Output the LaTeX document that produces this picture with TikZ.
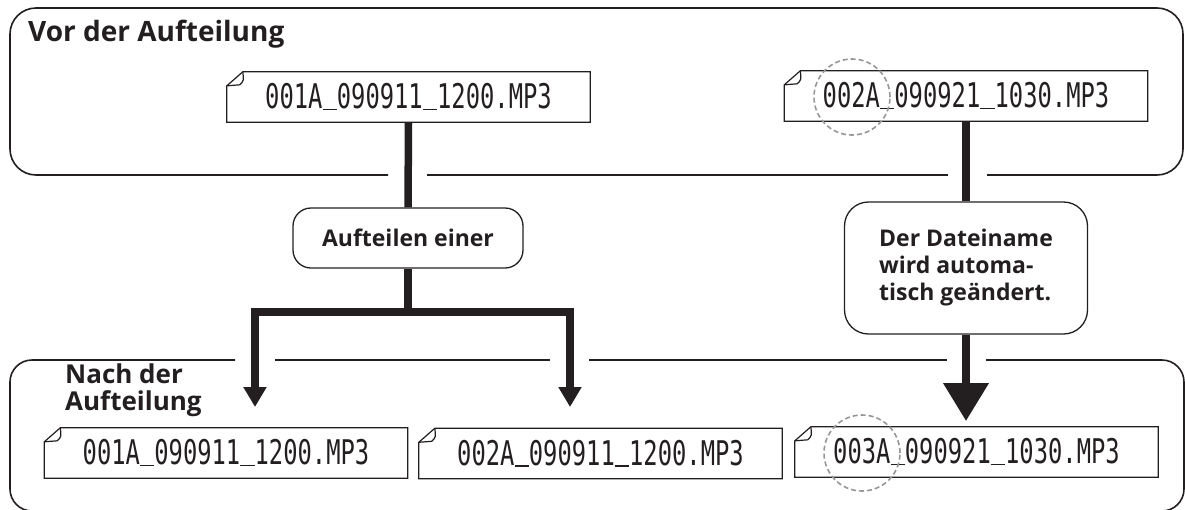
\documentclass[tikz,border=0pt]{standalone}
\usepackage{fontspec}
\newfontfamily\labelfont{Open Sans}
\newfontfamily\fnamefont[FakeStretch=0.70]{DejaVu Sans Mono}
\usetikzlibrary{arrows.meta}
\definecolor{splitblack}{RGB}{35, 31, 32}
\definecolor{splitgray}{RGB}{150, 150, 150}

% Unterstrich: eine Zeichenbreite der schmalen Schrift
\newcommand{\us}{\rule[-1.5pt]{0.421em}{1.5pt}}

% Dateisymbol: Rahmen mit Eselsohr um einen Dateinamen-Knoten
\newcommand{\dogear}[1]{%
  \draw[fileline] ([yshift=-14pt]#1.north west) -- ([xshift=16pt]#1.north west)
    -- (#1.north east) -- (#1.south east) -- (#1.south west) -- cycle;
  \draw[fileline] ([xshift=16pt]#1.north west)
    .. controls ([xshift=17pt,yshift=-9pt]#1.north west) .. ([xshift=13pt,yshift=-13pt]#1.north west)
    -- ([yshift=-14pt]#1.north west);}

\begin{document}
\begin{tikzpicture}[x=1pt, y=-1pt, >=Stealth,
    frame/.style={line width=1.6pt, draw=splitblack},
    fileline/.style={line width=1.2pt, draw=splitblack},
    filename/.style={minimum width=363pt, minimum height=50pt, inner sep=0pt,
      font=\fnamefont\fontsize{34}{34}\selectfont, text=splitblack},
    note/.style={draw=splitblack, line width=1.3pt, rounded corners=18pt, inner sep=0pt,
      font=\labelfont\bfseries\fontsize{23}{27}\selectfont, text=splitblack},
    heading/.style={inner sep=0pt, text=splitblack,
      font=\labelfont\bfseries\fontsize{28}{32}\selectfont},
    flow/.style={line width=7.5pt, draw=splitblack, line join=miter},
    changering/.style={circle, draw=splitgray, line width=1.6pt,
      dash pattern=on 5pt off 3pt, minimum size=76pt, inner sep=0pt}]

\clip (0,0) rectangle (1185,509);

% ============================================================
% RAHMEN: vor / nach der Aufteilung
% ============================================================

% Oben (Lücken für die Verbinder)
\draw[frame, rounded corners=26pt] (388,175) -- (10,175) -- (10,8) -- (1183,8) -- (1183,175) -- (987,175);
\draw[frame] (427,175) -- (948,175);

% Unten
\draw[frame, rounded corners=22pt] (235,360) -- (10,360) -- (10,511) -- (1184,511) -- (1184,360) -- (986,360);
\draw[frame] (275,360) -- (550,360);
\draw[frame] (589,360) -- (947,360);

\node[heading, anchor=base west] (before) at (28,41) {Vor der Aufteilung};
\node[heading, font=\labelfont\bfseries\fontsize{26}{27}\selectfont, align=left, anchor=north west]
  (after) at (65,364) {Nach der\\Aufteilung};

% ============================================================
% DATEIEN
% ============================================================

\node[filename] (old1) at (408.5,97) {001A\us090911\us1200.MP3};
\node[filename] (old2) at (966,96) {002A\us090921\us1030.MP3};
\dogear{old1}
\dogear{old2}

\node[filename] (new1) at (226,453) {001A\us090911\us1200.MP3};
\node[filename] (new2) at (600.5,453.5) {002A\us090911\us1200.MP3};
\node[filename] (new3) at (976.5,452) {003A\us090921\us1030.MP3};
\dogear{new1}
\dogear{new2}
\dogear{new3}

% ============================================================
% VERBINDER
% ============================================================

\node[note, minimum width=230pt, minimum height=60pt] (split) at (408,238) {Aufteilen einer};
\node[note, rounded corners=24pt, minimum width=243pt, minimum height=132pt, align=left]
  (rename) at (966,268) {Der Dateiname\\wird automa-\\tisch geändert.};

\coordinate (fork) at (408,312);
\coordinate (tipA) at (255,407);
\coordinate (tipB) at (570,407);
\coordinate (tipC) at (966,421);

\draw[flow] (old1.south) -- (split.north);
\draw[flow] (split.south) -- (fork);
\draw[flow, {Triangle[width=22pt,length=20pt]}-{Triangle[width=22pt,length=20pt]}]
  (tipA) |- (fork) -| (tipB);

\draw[flow] (old2.south) -- (rename.north);
\draw[flow, -{Triangle[width=44pt,length=38pt]}] (rename.south) -- (tipC);

% Markierung der geänderten Nummer
\node[changering] (ring1) at (852,97) {};
\node[changering] (ring2) at (862,453) {};

\end{tikzpicture}
\end{document}
